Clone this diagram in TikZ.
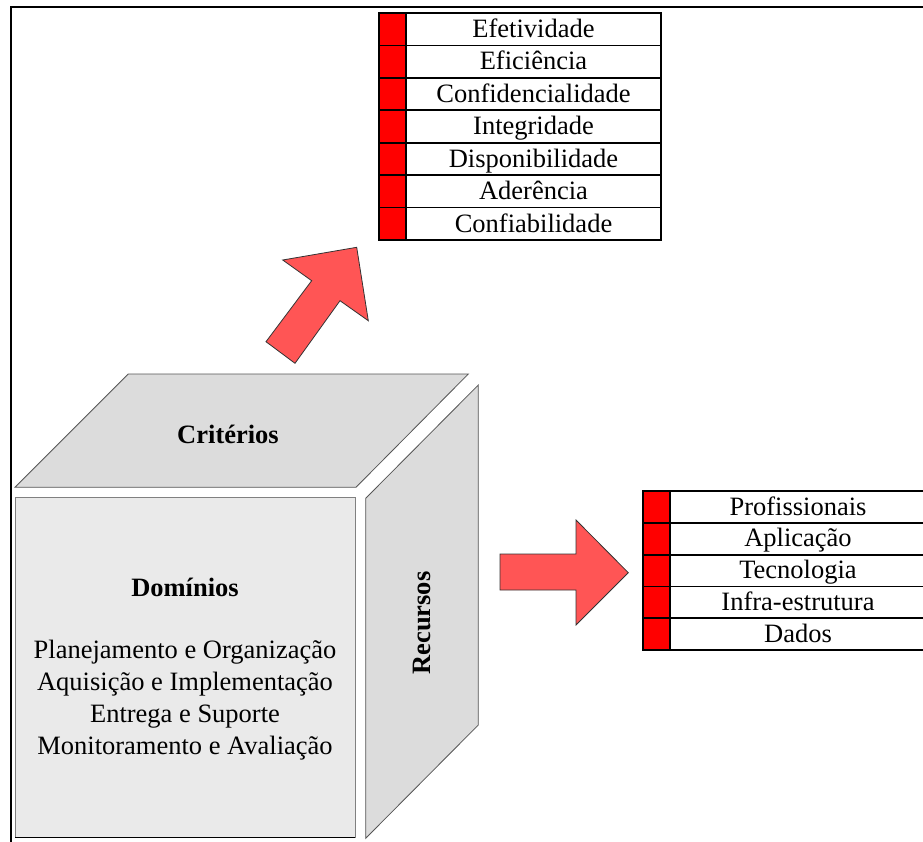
\documentclass[tikz,border=0pt]{standalone}
\usepackage{fontspec}
\setmainfont{Liberation Serif}
\definecolor{arrowred}{HTML}{FF5555}
\definecolor{tagred}{HTML}{FF0000}
\definecolor{facedark}{HTML}{DCDCDC}
\definecolor{facelight}{HTML}{EAEAEA}
\definecolor{edgegray}{HTML}{555555}
\begin{document}
\begin{tikzpicture}[x=1pt,y=-1pt,
  font=\fontsize{26.5}{32}\selectfont,
  tag/.style={draw=black,line width=1.8pt,fill=tagred,minimum width=27pt,inner sep=0pt,outer sep=0pt},
  cell/.style={draw=black,line width=1.8pt,fill=white,inner sep=0pt,outer sep=0pt,
    text height=17.5pt,text depth=1pt},
  face/.style={draw=edgegray,line width=0.8pt},
  bigarrow/.style={draw=black!80,line width=0.8pt,fill=arrowred},
  label/.style={font=\fontsize{26.5}{32}\selectfont\bfseries}]
\useasboundingbox (0,0) rectangle (923,841);
\clip (0,0) rectangle (923,841);

% frame
\draw[line width=2pt] (11,850) -- (11,7) -- (930,7);

% criteria list
\foreach \t [count=\i from 0] in {Efetividade,Eficiência,Confidencialidade,Integridade,Disponibilidade,Aderência,Confiabilidade}{
  \node[tag,minimum height=32.43pt] (crtag\i) at (392.5,{13+32.43*(\i+0.5)}) {};
  \node[cell,minimum width=255pt,minimum height=32.43pt] (cr\i) at (533.5,{13+32.43*(\i+0.5)}) {\t};
}

% resources list
\foreach \t [count=\i from 0] in {Profissionais,Aplicação,Tecnologia,Infra-estrutura,Dados}{
  \node[tag,minimum height=31.8pt] (rstag\i) at (656.5,{491+31.8*(\i+0.5)}) {};
  \node[cell,minimum width=256pt,minimum height=31.8pt] (rs\i) at (798,{491+31.8*(\i+0.5)}) {\t};
}

% cube: top face
\draw[face,fill=facedark] (128.3,374) -- (468.3,374) -- (356,487.3) -- (15,487.3) -- cycle;
\node[label] (criterios) at (228,434) {Critérios};

% cube: front face
\draw[face,fill=facelight,draw=gray] (15,497) rectangle (355,837);
\draw[line width=1pt] (15,837) -- (355,837);
\node[label] (dominios) at (185,587) {Domínios};
\node[align=center] (dominiolist) at (185,700)
  {Planejamento e Organização\\Aquisição e Implementação\\Entrega e Suporte\\Monitoramento e Avaliação};

% cube: side face
\draw[face,fill=facedark] (365.7,498.3) -- (478.3,385) -- (478.3,725) -- (365.7,838.3) -- cycle;
\node[label,rotate=90] (recursos) at (422,623) {Recursos};

% arrows
\draw[bigarrow] (356.7,247.3) -- (368.3,320.7) -- (340,300.7) -- (295,363.3)
  -- (266,341.7) -- (311.7,280.7) -- (282.7,260) -- cycle;
\draw[bigarrow] (500,554) -- (576,554) -- (576,520) -- (628.3,572.7)
  -- (576,625) -- (576,590) -- (500,590) -- cycle;
\end{tikzpicture}
\end{document}
